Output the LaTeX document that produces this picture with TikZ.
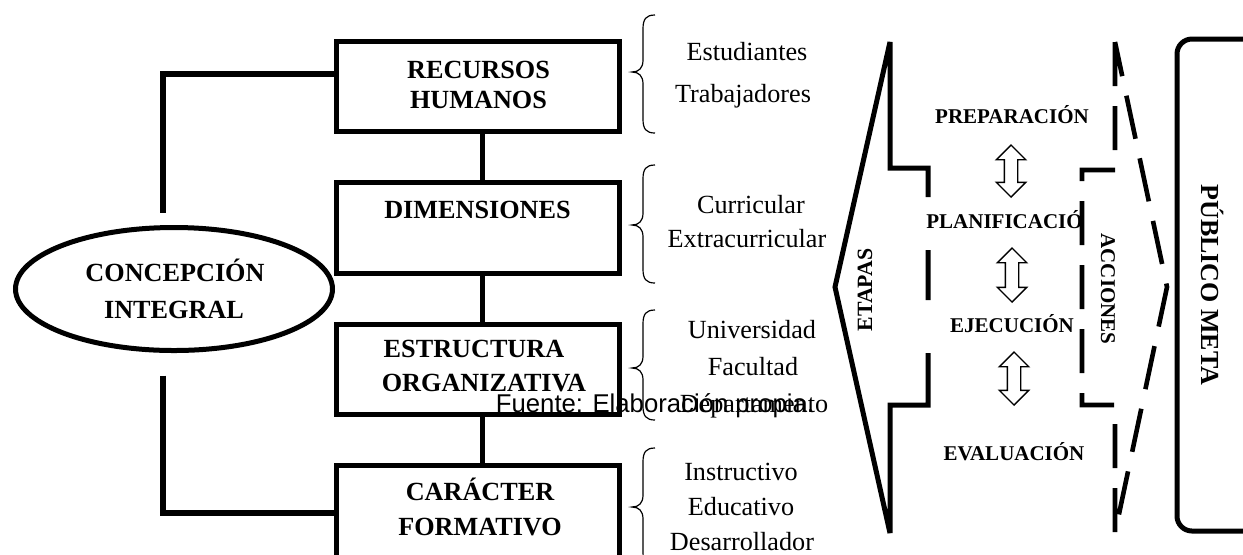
\documentclass[tikz,border=0pt]{standalone}
\usepackage{fontspec}
\setmainfont{Liberation Serif}
\newfontfamily\arialf{Liberation Sans}
\usetikzlibrary{shapes.geometric,shapes.arrows}
\newcommand\mybrace[3]{\draw[bracepath] (655,#1) .. controls (646,#1) and (643,#1+4) .. (643,#1+14) -- (643,#2-12) .. controls (643,#2-4) and (639,#2) .. (632,#2) .. controls (639,#2) and (643,#2+4) .. (643,#2+12) -- (643,#3-14) .. controls (643,#3-4) and (646,#3) .. (655,#3);}
\begin{document}
\begin{tikzpicture}[x=0.5pt,y=-0.5pt,
  box/.style={draw,line width=2.5pt,minimum width=141.5pt,minimum height=45pt,inner sep=0pt},
  conn/.style={line width=2.7pt},
  btxt/.style={font=\bfseries\fontsize{13.1}{15}\selectfont,inner sep=0pt,anchor=base},
  rtxt/.style={font=\fontsize{13.1}{15}\selectfont,inner sep=0pt,anchor=base},
  stxt/.style={font=\bfseries\fontsize{10.5}{12}\selectfont,inner sep=0pt,anchor=base},
  dblarrow/.style={draw,double arrow,line width=0.7pt,rotate=90,minimum width=14pt,inner sep=3pt,double arrow head extend=4pt},
  bracepath/.style={line width=0.6pt},
  solidshape/.style={line width=2.5pt,line join=miter,miter limit=3},
  dashshape/.style={line width=2.3pt,dash pattern=on 22pt off 10pt,line join=miter,miter limit=3},
  srcfont/.style={font=\arialf\fontsize{12.85}{14}\selectfont,inner sep=0pt,anchor=base}
]
\useasboundingbox (0,0) rectangle (1243,554);

% left part
\node[draw,ellipse,line width=2.5pt,minimum width=158.5pt,minimum height=61.5pt,inner sep=0pt] (ell) at (174,289) {};
\node[btxt] (ell1) at (175,281) {CONCEPCIÓN};
\node[btxt] (ell2) at (174,318) {INTEGRAL};

\node[box] (rh) at (477.5,86) {};
\node[box,minimum height=45.5pt] (dim) at (477.5,227.5) {};
\node[box] (eo) at (477.5,369) {};
\node[box,minimum height=46.5pt] (cf) at (477.5,511.5) {};

\node[btxt] (rh1) at (478.5,78) {RECURSOS};
\node[btxt] (rh2) at (478.5,108) {HUMANOS};
\node[btxt] (dim1) at (477.5,218) {DIMENSIONES};
\node[btxt] (eo1) at (474,357) {ESTRUCTURA};
\node[btxt] (eo2) at (484,391) {ORGANIZATIVA};
\node[btxt] (cf1) at (480,500) {CARÁCTER};
\node[btxt] (cf2) at (480,535) {FORMATIVO};

\draw[conn] ([xshift=2.5pt]rh.south) -- ([xshift=2.5pt]dim.north);
\draw[conn] ([xshift=2.5pt]dim.south) -- ([xshift=2.5pt]eo.north);
\draw[conn] ([xshift=2.5pt]eo.south) -- ([xshift=2.5pt]cf.north);
\draw[conn] ([yshift=6pt]rh.west) -| ([xshift=-5.5pt,yshift=6.25pt]ell.north);
\draw[conn] ([xshift=-5.5pt,yshift=-11.25pt]ell.south) |- ([yshift=-0.75pt]cf.west);

% braces
\mybrace{15}{72}{133}
\mybrace{165}{225}{283}
\mybrace{310}{368}{420}
\mybrace{448}{507}{566}

\node[rtxt] (s1) at (747,60) {Estudiantes};
\node[rtxt] (s2) at (743,102) {Trabajadores};
\node[rtxt] (s3) at (751,213) {Curricular};
\node[rtxt] (s4) at (747,247) {Extracurricular};
\node[rtxt] (s5) at (752,338) {Universidad};
\node[rtxt] (s6) at (753,375) {Facultad};
\node[rtxt] (s7) at (754,412) {Departamento};
\node[rtxt] (s8) at (741,480) {Instructivo};
\node[rtxt] (s9) at (741,515) {Educativo};
\node[rtxt] (s10) at (742,550) {Desarrollador};

\node[srcfont] (src) at (655,412) {Fuente: Elaboración propia.};

% etapas arrow
\draw[solidshape] (928,353) -- (928,405) -- (890,405) -- (890,533) -- (835,287) -- (890,42) -- (890,168) -- (928,168) -- (928,197) (928,250) -- (928,300);
\node[stxt,font=\bfseries\fontsize{10.9}{12}\selectfont,rotate=90] (et) at (872,290) {ETAPAS};

\node[stxt] (p1) at (1012,123) {PREPARACIÓN};
\node[stxt,anchor=base west] (p2) at (926,228) {PLANIFICACIÓ};
\node[stxt] (p3) at (1012,332) {EJECUCIÓN};
\node[stxt] (p4) at (1014,460) {EVALUACIÓN};

\node[dblarrow,minimum height=26pt] (da1) at (1011,171) {};
\node[dblarrow,minimum height=27pt] (da2) at (1012,275) {};
\node[dblarrow,minimum height=26.5pt] (da3) at (1014,378.5) {};

% acciones arrow
\draw[dashshape] (1115,42) -- (1115,170) -- (1082,170) -- (1082,405) -- (1115,405) -- (1115,533) -- (1167,287) -- cycle;
\node[stxt,rotate=-90] (ac) at (1101,289) {ACCIONES};

% publico meta
\node[draw,line width=2.5pt,rounded corners=7.5pt,minimum width=61.5pt,minimum height=246pt,inner sep=0pt] (pm) at (1238.5,285) {};
\node[btxt,font=\bfseries\fontsize{13}{15}\selectfont,rotate=-90] (pmt) at (1201,285) {PÚBLICO META};
\end{tikzpicture}
\end{document}
